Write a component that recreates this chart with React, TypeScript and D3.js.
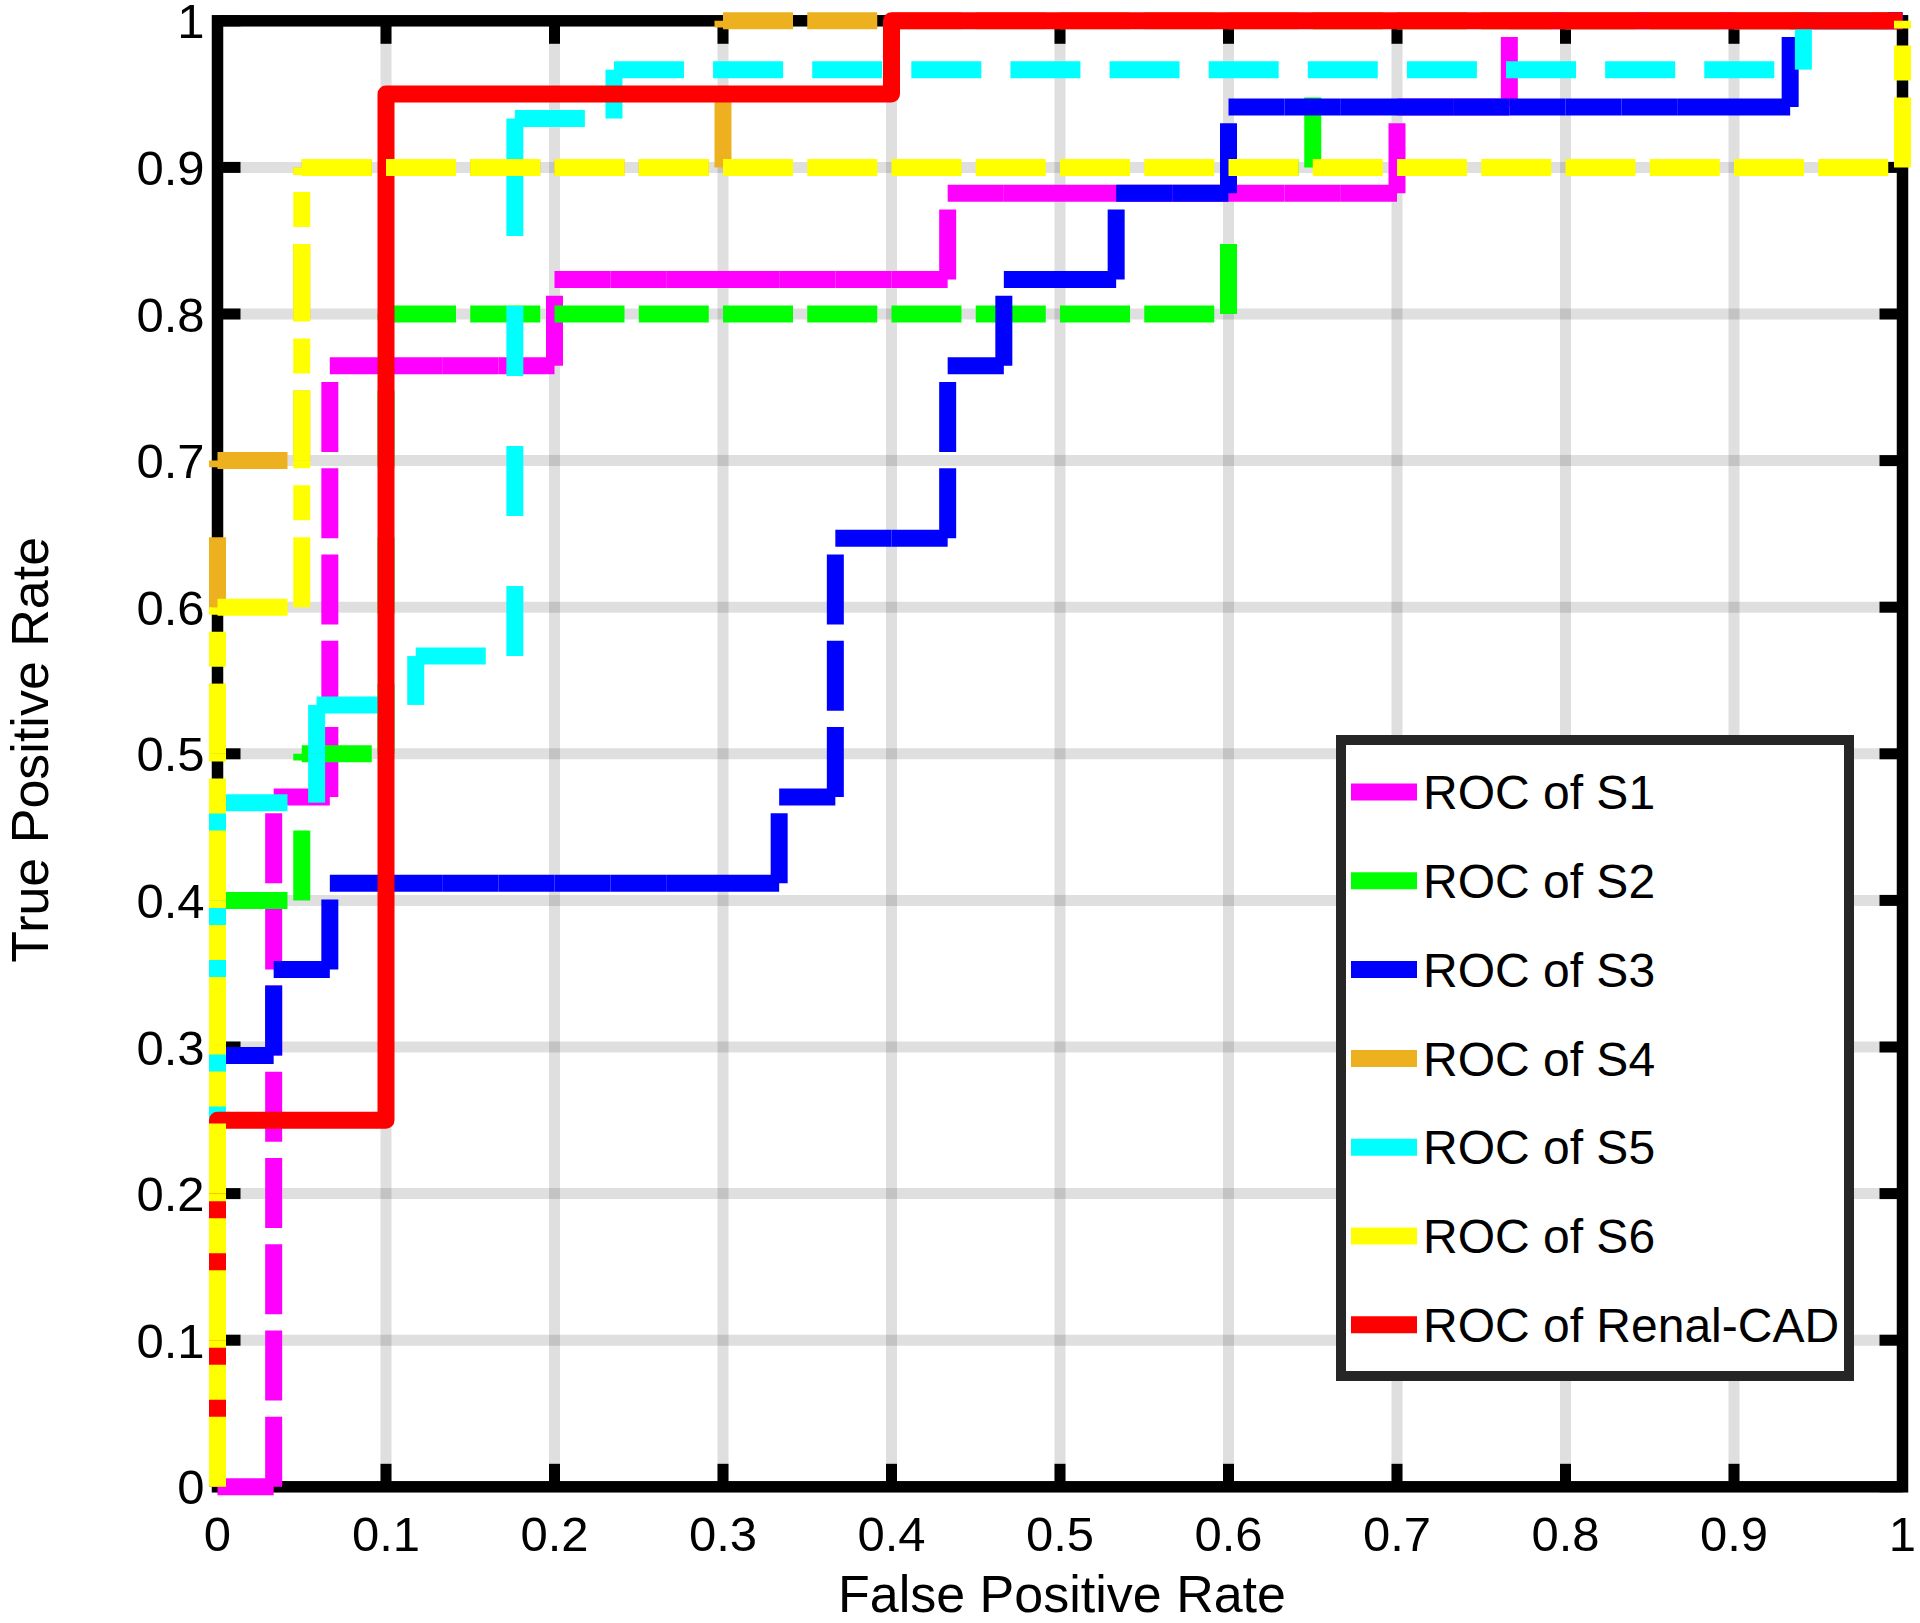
import React from 'react';
import * as d3 from 'd3';

// ---------- data ----------
const tickValues = [0, 0.1, 0.2, 0.3, 0.4, 0.5, 0.6, 0.7, 0.8, 0.9, 1];
const tickLabels = ['0', '0.1', '0.2', '0.3', '0.4', '0.5', '0.6', '0.7', '0.8', '0.9', '1'];

const seriesNames = ['ROC of S1', 'ROC of S2', 'ROC of S3', 'ROC of S4', 'ROC of S5', 'ROC of S6', 'ROC of Renal-CAD'];
const seriesColors = ['#ff00ff', '#00ff00', '#0000ff', '#edb120', '#00ffff', '#ffff00', '#ff0000'];

// S1: counts of false positives (of 30) and true positives (of 17)
const s1Neg = 30, s1Pos = 17;
const s1FP = [0, 1, 1, 1, 1, 1, 1, 1, 1, 1, 2, 2, 2, 2, 2, 2, 3, 4, 5, 6, 6, 7, 8, 9, 10, 11, 12, 13, 13, 14, 15, 16, 17, 18, 19, 20, 21, 21, 22, 23, 23, 24, 25, 26, 27, 28, 29, 30];
const s1TP = [0, 0, 1, 2, 3, 4, 5, 6, 7, 8, 8, 9, 10, 11, 12, 13, 13, 13, 13, 13, 14, 14, 14, 14, 14, 14, 14, 14, 15, 15, 15, 15, 15, 15, 15, 15, 15, 16, 16, 16, 17, 17, 17, 17, 17, 17, 17, 17];

// S2: of 20 negatives / 10 positives
const s2Neg = 20, s2Pos = 10;
const s2FP = [0, 0, 0, 0, 0, 1, 1, 2, 2, 2, 2, 3, 4, 5, 6, 7, 8, 9, 10, 11, 12, 12, 13, 13, 14, 15, 16, 17, 18, 19, 20];
const s2TP = [0, 1, 2, 3, 4, 4, 5, 5, 6, 7, 8, 8, 8, 8, 8, 8, 8, 8, 8, 8, 8, 9, 9, 10, 10, 10, 10, 10, 10, 10, 10];

// S3: of 30 negatives / 17 positives
const s3Neg = 30, s3Pos = 17;
const s3FP = [0, 0, 0, 0, 0, 0, 1, 1, 2, 2, 3, 4, 5, 6, 7, 8, 9, 10, 10, 11, 11, 11, 11, 12, 13, 13, 13, 14, 14, 15, 16, 16, 17, 18, 18, 19, 20, 21, 22, 23, 24, 25, 26, 27, 28, 28, 29, 30];
const s3TP = [0, 1, 2, 3, 4, 5, 5, 6, 6, 7, 7, 7, 7, 7, 7, 7, 7, 7, 8, 8, 9, 10, 11, 11, 11, 12, 13, 13, 14, 14, 14, 15, 15, 15, 16, 16, 16, 16, 16, 16, 16, 16, 16, 16, 16, 17, 17, 17];

// S4: of 20 negatives / 10 positives
const s4Neg = 20, s4Pos = 10;
const s4FP = [0, 0, 0, 0, 0, 0, 0, 0, 1, 1, 1, 2, 3, 4, 5, 6, 6, 7, 8, 9, 10, 11, 12, 13, 14, 15, 16, 17, 18, 19, 20];
const s4TP = [0, 1, 2, 3, 4, 5, 6, 7, 7, 8, 9, 9, 9, 9, 9, 9, 10, 10, 10, 10, 10, 10, 10, 10, 10, 10, 10, 10, 10, 10, 10];

// S5: of 17 negatives / 30 positives
const s5Neg = 17, s5Pos = 30;
const s5FP = [0, 0, 0, 0, 0, 0, 0, 0, 0, 0, 0, 0, 0, 0, 0, 1, 1, 1, 2, 2, 3, 3, 3, 4, 4, 5, 6, 7, 8, 9, 10, 11, 12, 13, 14, 15, 16, 16, 17];
const s5TP = [0, 1, 2, 3, 4, 5, 6, 7, 8, 9, 10, 11, 12, 13, 14, 14, 15, 16, 16, 17, 17, 27, 28, 28, 29, 29, 29, 29, 29, 29, 29, 29, 29, 29, 29, 29, 29, 30, 30];

// S6: of 20 negatives / 10 positives
const s6Neg = 20, s6Pos = 10;
const s6FP = [0, 0, 0, 0, 0, 0, 0, 1, 1, 1, 1, 2, 3, 4, 5, 6, 7, 8, 9, 10, 11, 12, 13, 14, 15, 16, 17, 18, 19, 20, 20];
const s6TP = [0, 1, 2, 3, 4, 5, 6, 6, 7, 8, 9, 9, 9, 9, 9, 9, 9, 9, 9, 9, 9, 9, 9, 9, 9, 9, 9, 9, 9, 9, 10];

// Renal-CAD (rates)
const cadFPR = [0, 0, 0.1, 0.1, 0.4, 0.4, 1];
const cadTPR = [0, 0.25, 0.25, 0.95, 0.95, 1, 1];

// ---------- chart ----------
const W = 1920;
const H = 1623;
const FONT = 'Liberation Sans, Arial, Helvetica, sans-serif';

type Pt = [number, number];

function rates(fp: number[], tp: number[], n: number, p: number): Pt[] {
  return fp.map((f, i) => [f / n, tp[i] / p] as Pt);
}

export default function App() {
  const x = d3.scaleLinear().domain([0, 1]).range([217.5, 1902.5]);
  const y = d3.scaleLinear().domain([0, 1]).range([1486.8, 20.8]);

  const dashed: { pts: Pt[]; color: string; dash: string }[] = [
    { pts: rates(s1FP, s1TP, s1Neg, s1Pos), color: seriesColors[0], dash: '70 70' },
    { pts: rates(s2FP, s2TP, s2Neg, s2Pos), color: seriesColors[1], dash: '70 70' },
    { pts: rates(s3FP, s3TP, s3Neg, s3Pos), color: seriesColors[2], dash: '70 70' },
    { pts: rates(s4FP, s4TP, s4Neg, s4Pos), color: seriesColors[3], dash: '70 70' },
    { pts: rates(s5FP, s5TP, s5Neg, s5Pos), color: seriesColors[4], dash: '70 70' },
  ];
  const s6 = { pts: rates(s6FP, s6TP, s6Neg, s6Pos), color: seriesColors[5], dash: '70 17 35 17' };
  const cadPts: Pt[] = cadFPR.map((f, i) => [f, cadTPR[i]] as Pt);
  const line = d3.line<Pt>().x(d => x(d[0])).y(d => y(d[1]));

  const LW = 17;
  const renderSegs = (s: { pts: Pt[]; color: string; dash: string }, k: number) => (
    <g key={k}>
      {s.pts.slice(1).map((p, i) => {
        const a = s.pts[i];
        if (a[0] === p[0] && a[1] === p[1]) return null;
        return (
          <line key={i} x1={x(a[0])} y1={y(a[1])} x2={x(p[0])} y2={y(p[1])}
            stroke={s.color} strokeWidth={LW} strokeDasharray={s.dash} strokeLinecap="butt" />
        );
      })}
    </g>
  );

  const inner = tickValues.slice(1, -1);
  const tickLen = 23;
  const legX = 1341, legY = 740, legW = 508, legH = 636;
  const legRow0 = 792, legStep = 88.8;

  return (
    <svg width={W} height={H} style={{ position: 'absolute', left: 0, top: 0, display: 'block', background: '#fff' }}
      xmlns="http://www.w3.org/2000/svg">
      <rect x={0} y={0} width={W} height={H} fill="#ffffff" />
      {/* grid */}
      <g stroke="#262626" strokeOpacity={0.15} strokeWidth={11}>
        {inner.map((t, i) => (
          <line key={'gx' + i} x1={x(t)} x2={x(t)} y1={y(0)} y2={y(1)} />
        ))}
        {inner.map((t, i) => (
          <line key={'gy' + i} x1={x(0)} x2={x(1)} y1={y(t)} y2={y(t)} />
        ))}
      </g>
      {/* axes box and ticks */}
      <g stroke="#000" strokeWidth={11}>
        {tickValues.map((t, i) => (
          <g key={'t' + i}>
            <line x1={x(t)} x2={x(t)} y1={y(0)} y2={y(0) - tickLen} />
            <line x1={x(t)} x2={x(t)} y1={y(1)} y2={y(1) + tickLen} />
            <line x1={x(0)} x2={x(0) + tickLen} y1={y(t)} y2={y(t)} />
            <line x1={x(1)} x2={x(1) - tickLen} y1={y(t)} y2={y(t)} />
          </g>
        ))}
        <rect x={x(0)} y={y(1)} width={x(1) - x(0)} height={y(0) - y(1)} fill="none" strokeWidth={11.5} />
      </g>
      {/* series */}
      {dashed.map((s, k) => renderSegs(s, k))}
      <path d={line(cadPts) || ''} fill="none" stroke={seriesColors[6]} strokeWidth={LW}
        strokeLinejoin="round" strokeLinecap="butt" />
      {renderSegs(s6, 99)}
      {/* tick labels */}
      <g fontFamily={FONT} fontSize={49} fill="#000">
        {tickValues.map((t, i) => (
          <text key={'xl' + i} x={x(t)} y={1551} textAnchor="middle">{tickLabels[i]}</text>
        ))}
        {tickValues.map((t, i) => (
          <text key={'yl' + i} x={204.5} y={y(t) + 17.5} textAnchor="end">{tickLabels[i]}</text>
        ))}
      </g>
      {/* axis titles */}
      <text x={(x(0) + x(1)) / 2 + 2} y={1612} textAnchor="middle" fontFamily={FONT} fontSize={52} fill="#000">
        False Positive Rate
      </text>
      <text transform={`translate(48, ${(y(0) + y(1)) / 2 - 4}) rotate(-90)`} textAnchor="middle"
        fontFamily={FONT} fontSize={52} fill="#000">
        True Positive Rate
      </text>
      {/* legend */}
      <g>
        <rect x={legX} y={legY} width={legW} height={legH} fill="#fff" stroke="#262626" strokeWidth={10} />
        {seriesNames.map((name, i) => {
          const cy = legRow0 + i * legStep;
          return (
            <g key={'lg' + i}>
              <line x1={1351} x2={1417} y1={cy} y2={cy} stroke={seriesColors[i]} strokeWidth={LW} />
              <text x={1423} y={cy + 17.2} fontFamily={FONT} fontSize={48} fill="#000">{name}</text>
            </g>
          );
        })}
      </g>
    </svg>
  );
}
